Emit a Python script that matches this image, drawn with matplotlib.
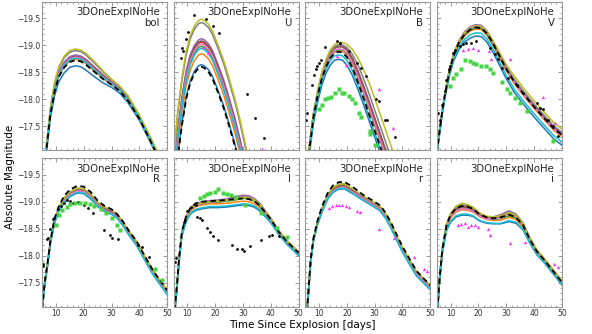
import numpy as np
import matplotlib
matplotlib.use('Agg')
import matplotlib.pyplot as plt
from matplotlib.ticker import MultipleLocator, FuncFormatter

#************************************
''' Data read off the picture '''
#************************************
# model order in every panel:
# blue, orange, green, red, purple, brown, pink, gray, olive, cyan, dashed black
model_colors = ['#1f77b4', '#ff7f0e', '#2ca02c', '#d62728', '#9467bd',
                '#8c564b', '#e377c2', '#7f7f7f', '#bcbd22', '#17becf']

t_bol = [5, 6.5, 8, 9.5, 11, 13, 15, 17, 19, 21, 24, 27, 30, 33, 36, 40, 44, 50]
bol_models = [
    [-16.21, -16.97, -17.65, -18.06, -18.32, -18.49, -18.59, -18.62, -18.60, -18.53, -18.41, -18.30, -18.22, -18.11, -17.93, -17.61, -17.20, -16.55],
    [-16.27, -17.02, -17.72, -18.16, -18.42, -18.61, -18.71, -18.74, -18.72, -18.65, -18.51, -18.38, -18.27, -18.16, -17.98, -17.64, -17.23, -16.58],
    [-16.29, -17.04, -17.74, -18.18, -18.45, -18.64, -18.74, -18.77, -18.75, -18.68, -18.54, -18.41, -18.29, -18.17, -17.99, -17.65, -17.24, -16.59],
    [-16.30, -17.05, -17.76, -18.21, -18.48, -18.67, -18.77, -18.80, -18.78, -18.71, -18.57, -18.43, -18.30, -18.18, -18.00, -17.66, -17.25, -16.60],
    [-16.32, -17.07, -17.77, -18.22, -18.50, -18.69, -18.79, -18.82, -18.80, -18.73, -18.59, -18.44, -18.32, -18.19, -18.01, -17.67, -17.26, -16.61],
    [-16.30, -17.05, -17.75, -18.20, -18.47, -18.66, -18.76, -18.79, -18.77, -18.71, -18.58, -18.44, -18.32, -18.20, -18.02, -17.67, -17.26, -16.60],
    [-16.29, -17.04, -17.74, -18.19, -18.46, -18.65, -18.75, -18.78, -18.76, -18.69, -18.55, -18.41, -18.30, -18.18, -18.00, -17.67, -17.27, -16.62],
    [-16.36, -17.11, -17.82, -18.29, -18.57, -18.77, -18.87, -18.90, -18.88, -18.81, -18.66, -18.50, -18.36, -18.23, -18.05, -17.70, -17.29, -16.64],
    [-16.37, -17.12, -17.83, -18.31, -18.60, -18.80, -18.90, -18.93, -18.91, -18.84, -18.69, -18.52, -18.37, -18.24, -18.06, -17.70, -17.29, -16.64],
    [-16.28, -17.03, -17.73, -18.18, -18.44, -18.63, -18.73, -18.76, -18.74, -18.67, -18.53, -18.40, -18.28, -18.17, -17.99, -17.65, -17.24, -16.59],
    [-16.27, -17.02, -17.71, -18.14, -18.41, -18.59, -18.69, -18.72, -18.70, -18.63, -18.50, -18.37, -18.27, -18.15, -17.97, -17.64, -17.23, -16.58],
]

t_U = [5, 6.5, 8, 9.5, 11, 12.5, 14, 15, 16, 17.5, 19, 21, 23, 25, 27, 29, 31, 33]
U_models = [
    [-16.06, -16.96, -17.56, -18.04, -18.34, -18.52, -18.62, -18.64, -18.62, -18.55, -18.42, -18.16, -17.88, -17.54, -17.18, -16.76, -16.28, -15.76],
    [-16.26, -17.16, -17.76, -18.24, -18.54, -18.72, -18.82, -18.84, -18.82, -18.75, -18.62, -18.36, -18.08, -17.74, -17.38, -16.96, -16.48, -15.96],
    [-16.40, -17.30, -17.90, -18.38, -18.68, -18.86, -18.96, -18.98, -18.96, -18.89, -18.76, -18.50, -18.22, -17.88, -17.52, -17.10, -16.62, -16.10],
    [-16.48, -17.38, -17.98, -18.46, -18.76, -18.94, -19.04, -19.06, -19.04, -18.97, -18.84, -18.58, -18.30, -17.96, -17.60, -17.18, -16.70, -16.18],
    [-16.54, -17.44, -18.04, -18.52, -18.82, -19.00, -19.10, -19.12, -19.10, -19.03, -18.90, -18.64, -18.36, -18.02, -17.66, -17.24, -16.76, -16.24],
    [-16.50, -17.40, -18.00, -18.48, -18.78, -18.96, -19.06, -19.08, -19.06, -18.99, -18.86, -18.60, -18.32, -17.98, -17.62, -17.20, -16.72, -16.20],
    [-16.44, -17.34, -17.94, -18.42, -18.72, -18.90, -19.00, -19.02, -19.00, -18.93, -18.80, -18.54, -18.26, -17.92, -17.56, -17.14, -16.66, -16.14],
    [-16.84, -17.74, -18.34, -18.82, -19.12, -19.30, -19.40, -19.42, -19.40, -19.33, -19.20, -18.94, -18.66, -18.32, -17.96, -17.54, -17.06, -16.54],
    [-16.90, -17.80, -18.40, -18.88, -19.18, -19.36, -19.46, -19.48, -19.46, -19.39, -19.26, -19.00, -18.72, -18.38, -18.02, -17.60, -17.12, -16.60],
    [-16.36, -17.26, -17.86, -18.34, -18.64, -18.82, -18.92, -18.94, -18.92, -18.85, -18.72, -18.46, -18.18, -17.84, -17.48, -17.06, -16.58, -16.06],
    [-16.02, -16.92, -17.52, -18.00, -18.30, -18.48, -18.58, -18.60, -18.58, -18.51, -18.38, -18.12, -17.84, -17.50, -17.14, -16.72, -16.24, -15.72],
]
U_black_t = [7.5, 8.1, 8.5, 9.3, 10.3, 12.3, 16.6, 19.2, 21.4, 31.4, 34.4, 37.6]
U_black_m = [-18.77, -18.95, -18.89, -19.12, -19.24, -19.56, -19.49, -19.36, -19.22, -18.10, -17.65, -17.28]
U_mag_t = [15.4, 17.4, 36.8]
U_mag_m = [-18.96, -18.85, -17.07]

t_B = [5, 6.5, 8, 9.5, 11, 12.5, 14, 15.5, 17, 18.5, 20, 22, 24, 26, 28, 30, 32, 34, 36, 38]
B_models = [
    [-16.40, -16.98, -17.56, -17.95, -18.26, -18.48, -18.63, -18.72, -18.74, -18.72, -18.63, -18.44, -18.18, -17.90, -17.60, -17.30, -17.00, -16.70, -16.42, -16.12],
    [-16.48, -17.08, -17.68, -18.08, -18.39, -18.61, -18.77, -18.87, -18.90, -18.89, -18.82, -18.64, -18.39, -18.11, -17.82, -17.52, -17.22, -16.92, -16.64, -16.34],
    [-16.49, -17.09, -17.69, -18.09, -18.41, -18.63, -18.79, -18.89, -18.92, -18.91, -18.84, -18.66, -18.41, -18.13, -17.84, -17.54, -17.24, -16.94, -16.66, -16.36],
    [-16.51, -17.11, -17.72, -18.12, -18.45, -18.68, -18.85, -18.95, -18.98, -18.97, -18.91, -18.73, -18.48, -18.20, -17.91, -17.61, -17.31, -17.01, -16.73, -16.43],
    [-16.52, -17.12, -17.73, -18.14, -18.47, -18.70, -18.87, -18.97, -19.01, -19.00, -18.93, -18.76, -18.51, -18.23, -17.94, -17.64, -17.34, -17.04, -16.76, -16.46],
    [-16.50, -17.10, -17.71, -18.11, -18.44, -18.67, -18.84, -18.94, -18.97, -18.97, -18.91, -18.75, -18.52, -18.25, -17.96, -17.66, -17.36, -17.06, -16.78, -16.48],
    [-16.50, -17.10, -17.70, -18.10, -18.42, -18.64, -18.80, -18.90, -18.93, -18.92, -18.85, -18.67, -18.42, -18.14, -17.85, -17.55, -17.25, -16.95, -16.67, -16.37],
    [-16.53, -17.13, -17.73, -18.14, -18.47, -18.70, -18.87, -18.97, -19.00, -19.00, -18.96, -18.83, -18.63, -18.38, -18.10, -17.80, -17.50, -17.20, -16.90, -16.60],
    [-16.55, -17.15, -17.75, -18.17, -18.50, -18.74, -18.91, -19.01, -19.05, -19.05, -19.02, -18.92, -18.76, -18.55, -18.30, -18.02, -17.72, -17.42, -17.12, -16.82],
    [-16.45, -17.04, -17.63, -18.02, -18.33, -18.55, -18.71, -18.80, -18.82, -18.80, -18.72, -18.53, -18.27, -17.98, -17.68, -17.38, -17.08, -16.78, -16.50, -16.20],
    [-16.47, -17.07, -17.67, -18.07, -18.38, -18.60, -18.76, -18.85, -18.88, -18.86, -18.78, -18.58, -18.31, -18.02, -17.72, -17.42, -17.12, -16.82, -16.54, -16.24],
]
B_black_t = [5.4, 5.6, 7.4, 8.2, 9.0, 9.2, 9.8, 10.7, 12.2, 16.4, 17.6, 20.6, 23.7, 25.1, 27.0, 30.6, 31.5, 33.9, 34.5, 37.5]
B_black_m = [-17.61, -17.75, -18.27, -18.44, -18.55, -18.61, -18.67, -18.72, -18.96, -19.07, -19.04, -18.89, -18.67, -18.58, -18.43, -18.00, -17.96, -17.62, -17.62, -17.30]
B_green_t = [9.8, 11.0, 12.2, 13.1, 14.3, 15.8, 17.0, 18.2, 19.1, 20.6, 21.9, 23.1, 24.2, 25.1, 28.5, 28.5, 30.3]
B_green_m = [-17.81, -17.90, -18.00, -18.02, -18.04, -18.12, -18.18, -18.12, -18.12, -18.06, -18.00, -17.93, -17.75, -17.67, -17.41, -17.35, -17.16]
B_mag_t = [16.4, 19.8, 31.5, 36.7]
B_mag_m = [-18.80, -18.64, -18.18, -17.47]

t_V = [5, 6, 7, 8, 9.5, 11, 13, 15, 17, 19, 21, 23, 25, 27, 30, 33, 36, 40, 44, 47, 50]
V_models = [
    [-16.95, -17.35, -17.73, -18.04, -18.42, -18.70, -18.92, -19.06, -19.13, -19.17, -19.16, -19.06, -18.89, -18.69, -18.38, -18.12, -17.92, -17.67, -17.44, -17.27, -17.15],
    [-16.99, -17.39, -17.77, -18.09, -18.48, -18.78, -19.03, -19.17, -19.26, -19.30, -19.29, -19.19, -19.02, -18.82, -18.53, -18.28, -18.08, -17.83, -17.60, -17.43, -17.31],
    [-17.00, -17.40, -17.78, -18.10, -18.50, -18.79, -19.04, -19.19, -19.28, -19.32, -19.31, -19.21, -19.04, -18.85, -18.55, -18.31, -18.11, -17.86, -17.63, -17.46, -17.34],
    [-17.00, -17.40, -17.78, -18.10, -18.51, -18.81, -19.06, -19.21, -19.30, -19.34, -19.33, -19.23, -19.07, -18.87, -18.57, -18.33, -18.13, -17.88, -17.65, -17.48, -17.36],
    [-17.02, -17.42, -17.80, -18.12, -18.53, -18.83, -19.09, -19.25, -19.34, -19.38, -19.37, -19.27, -19.10, -18.90, -18.60, -18.34, -18.14, -17.89, -17.66, -17.49, -17.37],
    [-17.00, -17.40, -17.78, -18.10, -18.50, -18.80, -19.05, -19.20, -19.29, -19.33, -19.32, -19.22, -19.05, -18.86, -18.56, -18.32, -18.12, -17.87, -17.64, -17.47, -17.35],
    [-17.01, -17.41, -17.79, -18.11, -18.51, -18.81, -19.07, -19.22, -19.31, -19.35, -19.34, -19.24, -19.07, -18.86, -18.56, -18.30, -18.10, -17.85, -17.62, -17.45, -17.33],
    [-17.00, -17.40, -17.78, -18.10, -18.51, -18.81, -19.06, -19.21, -19.30, -19.34, -19.33, -19.23, -19.07, -18.88, -18.59, -18.36, -18.16, -17.91, -17.68, -17.51, -17.39],
    [-17.01, -17.41, -17.79, -18.11, -18.52, -18.82, -19.07, -19.23, -19.32, -19.36, -19.35, -19.26, -19.10, -18.92, -18.64, -18.42, -18.22, -17.97, -17.74, -17.57, -17.45],
    [-16.97, -17.37, -17.75, -18.06, -18.45, -18.74, -18.97, -19.11, -19.19, -19.23, -19.22, -19.12, -18.95, -18.75, -18.44, -18.18, -17.98, -17.73, -17.50, -17.33, -17.21],
    [-17.00, -17.40, -17.78, -18.10, -18.50, -18.80, -19.05, -19.20, -19.29, -19.33, -19.32, -19.22, -19.06, -18.86, -18.56, -18.31, -18.11, -17.86, -17.63, -17.46, -17.34],
]
V_black_t = [5.5, 6.1, 7.0, 7.9, 8.5, 9.3, 9.7, 10.9, 11.5, 13.3, 14.5, 15.7, 17.5, 19.3, 24.1, 25.9, 27.1, 28.4, 30.7, 33.8, 36.2, 41.0, 42.2, 43.4, 45.2, 47.0, 48.8]
V_black_m = [-17.75, -17.62, -17.90, -18.15, -18.36, -18.55, -18.61, -18.86, -18.92, -18.98, -19.02, -19.04, -19.04, -19.07, -18.95, -18.83, -18.74, -18.58, -18.39, -18.27, -18.12, -17.93, -17.84, -17.81, -17.62, -17.50, -17.31]
V_green_t = [9.7, 10.9, 12.1, 13.9, 15.1, 16.9, 18.1, 19.3, 21.1, 22.9, 24.1, 25.3, 28.4, 30.2, 31.4, 33.2, 35.0, 37.4, 47.0]
V_green_m = [-18.24, -18.39, -18.46, -18.55, -18.72, -18.70, -18.67, -18.65, -18.61, -18.61, -18.55, -18.49, -18.31, -18.18, -18.12, -18.02, -17.93, -17.78, -17.22]
V_mag_t = [14.5, 16.3, 18.1, 19.9, 23.9, 24.5, 31.4, 43.4, 47.6]
V_mag_m = [-18.92, -18.93, -18.95, -18.92, -18.89, -18.74, -18.74, -18.04, -17.56]

t_R = [5, 6, 7, 8, 9.5, 11, 13, 15, 17.5, 20, 22.5, 25, 27.5, 30, 32, 34, 36.5, 39, 42, 45, 50]
R_models = [
    [-16.97, -17.47, -17.82, -18.22, -18.60, -18.82, -18.98, -19.09, -19.16, -19.15, -19.05, -18.91, -18.82, -18.77, -18.70, -18.57, -18.37, -18.20, -17.92, -17.65, -17.29],
    [-17.00, -17.50, -17.85, -18.25, -18.64, -18.86, -19.04, -19.15, -19.22, -19.21, -19.11, -18.96, -18.86, -18.81, -18.73, -18.60, -18.40, -18.23, -17.95, -17.68, -17.32],
    [-17.00, -17.50, -17.85, -18.25, -18.65, -18.87, -19.05, -19.16, -19.23, -19.22, -19.12, -18.97, -18.87, -18.82, -18.74, -18.61, -18.41, -18.24, -17.96, -17.69, -17.33],
    [-16.99, -17.49, -17.84, -18.24, -18.64, -18.86, -19.03, -19.14, -19.21, -19.20, -19.10, -18.95, -18.85, -18.80, -18.71, -18.58, -18.38, -18.21, -17.93, -17.66, -17.30],
    [-17.01, -17.51, -17.86, -18.26, -18.66, -18.88, -19.07, -19.18, -19.25, -19.24, -19.14, -18.98, -18.88, -18.83, -18.74, -18.61, -18.41, -18.24, -17.96, -17.69, -17.33],
    [-17.00, -17.50, -17.85, -18.25, -18.65, -18.87, -19.05, -19.16, -19.23, -19.22, -19.12, -18.97, -18.88, -18.83, -18.75, -18.62, -18.42, -18.25, -17.97, -17.70, -17.34],
    [-16.99, -17.49, -17.84, -18.24, -18.63, -18.85, -19.02, -19.13, -19.20, -19.19, -19.09, -18.94, -18.84, -18.79, -18.71, -18.58, -18.38, -18.21, -17.93, -17.66, -17.30],
    [-17.00, -17.50, -17.85, -18.25, -18.66, -18.88, -19.06, -19.17, -19.24, -19.23, -19.13, -18.98, -18.89, -18.84, -18.76, -18.63, -18.43, -18.26, -17.98, -17.71, -17.35],
    [-17.01, -17.51, -17.86, -18.26, -18.66, -18.88, -19.07, -19.18, -19.25, -19.24, -19.14, -18.99, -18.90, -18.85, -18.77, -18.64, -18.44, -18.27, -17.99, -17.72, -17.36],
    [-16.98, -17.48, -17.83, -18.23, -18.61, -18.83, -18.99, -19.10, -19.17, -19.16, -19.06, -18.91, -18.82, -18.77, -18.69, -18.56, -18.36, -18.19, -17.91, -17.64, -17.28],
    [-17.02, -17.52, -17.87, -18.27, -18.69, -18.91, -19.11, -19.22, -19.29, -19.28, -19.18, -19.02, -18.92, -18.86, -18.77, -18.64, -18.44, -18.27, -17.99, -17.72, -17.36],
]
R_black_t = [5.2, 5.4, 6.9, 7.3, 7.9, 8.8, 9.2, 10.6, 11.7, 12.9, 14.0, 15.2, 16.3, 18.1, 20.1, 21.5, 23.3, 27.3, 29.6, 30.2, 32.5, 39.4, 41.1, 43.4]
R_black_m = [-17.85, -17.80, -18.30, -18.33, -18.49, -18.67, -18.70, -18.86, -18.92, -18.98, -19.03, -19.01, -18.98, -19.00, -18.94, -18.88, -18.79, -18.48, -18.38, -18.32, -18.30, -18.20, -18.16, -17.98]
R_green_t = [10.0, 11.2, 12.3, 14.0, 15.2, 16.9, 18.7, 20.4, 22.1, 23.8, 26.1, 27.9, 30.2, 31.9, 33.1, 45.8, 48.1]
R_green_m = [-18.57, -18.75, -18.85, -18.91, -18.95, -18.97, -18.98, -18.97, -18.95, -18.92, -18.86, -18.79, -18.69, -18.57, -18.48, -17.76, -17.54]

t_I = [5, 6, 7, 8, 9.5, 11, 13, 15.5, 18, 21, 24, 27, 30, 32, 34, 36, 38, 40, 43, 46, 50]
I_models = [
    [-16.77, -17.27, -17.91, -18.37, -18.63, -18.77, -18.84, -18.87, -18.89, -18.89, -18.90, -18.92, -18.94, -18.93, -18.90, -18.83, -18.72, -18.61, -18.38, -18.20, -18.00],
    [-16.79, -17.29, -17.94, -18.40, -18.68, -18.82, -18.91, -18.94, -18.96, -18.96, -18.97, -18.99, -19.01, -19.00, -18.96, -18.89, -18.76, -18.64, -18.41, -18.23, -18.03],
    [-16.80, -17.30, -17.95, -18.42, -18.70, -18.85, -18.94, -18.97, -18.99, -18.99, -19.01, -19.03, -19.06, -19.05, -19.01, -18.92, -18.79, -18.66, -18.42, -18.24, -18.04],
    [-16.81, -17.31, -17.96, -18.43, -18.71, -18.86, -18.96, -18.99, -19.01, -19.02, -19.04, -19.08, -19.11, -19.10, -19.05, -18.96, -18.82, -18.68, -18.44, -18.26, -18.06],
    [-16.81, -17.32, -17.97, -18.44, -18.72, -18.87, -18.97, -19.00, -19.02, -19.03, -19.05, -19.09, -19.12, -19.11, -19.06, -18.97, -18.83, -18.69, -18.45, -18.27, -18.07],
    [-16.80, -17.30, -17.95, -18.42, -18.71, -18.86, -18.95, -18.98, -19.00, -19.01, -19.03, -19.07, -19.10, -19.09, -19.04, -18.95, -18.80, -18.67, -18.43, -18.25, -18.05],
    [-16.80, -17.30, -17.95, -18.42, -18.70, -18.85, -18.94, -18.97, -18.99, -19.00, -19.03, -19.06, -19.10, -19.09, -19.04, -18.94, -18.79, -18.66, -18.42, -18.24, -18.04],
    [-16.80, -17.30, -17.95, -18.42, -18.70, -18.85, -18.94, -18.97, -18.99, -19.00, -19.02, -19.05, -19.09, -19.08, -19.03, -18.94, -18.80, -18.68, -18.44, -18.26, -18.06],
    [-16.81, -17.31, -17.96, -18.43, -18.71, -18.86, -18.95, -18.98, -19.00, -19.01, -19.03, -19.05, -19.08, -19.07, -19.03, -18.95, -18.82, -18.69, -18.45, -18.27, -18.07],
    [-16.78, -17.28, -17.92, -18.38, -18.64, -18.78, -18.86, -18.89, -18.91, -18.91, -18.92, -18.94, -18.96, -18.95, -18.92, -18.85, -18.73, -18.62, -18.39, -18.21, -18.01],
    [-16.82, -17.32, -17.97, -18.45, -18.73, -18.88, -18.97, -19.00, -19.01, -19.02, -19.03, -19.05, -19.06, -19.05, -19.01, -18.93, -18.80, -18.67, -18.43, -18.25, -18.05],
]
I_black_t = [5.6, 5.8, 8.6, 9.2, 10.0, 11.2, 12.9, 13.5, 14.6, 15.2, 16.9, 18.1, 19.2, 21.0, 26.1, 27.9, 29.6, 30.4, 32.5, 36.5, 39.4, 40.5, 42.9]
I_black_m = [-17.89, -17.95, -18.63, -18.66, -18.82, -18.91, -18.94, -18.72, -18.69, -18.66, -18.51, -18.44, -18.36, -18.29, -18.20, -18.12, -18.13, -18.09, -18.18, -18.29, -18.36, -18.38, -18.36]
I_green_t = [14.6, 15.8, 16.9, 18.1, 19.8, 21.0, 22.7, 24.1, 25.6, 27.3, 30.8, 36.5, 42.3, 45.8]
I_green_m = [-19.07, -19.11, -19.14, -19.16, -19.17, -19.24, -19.16, -19.14, -19.13, -19.08, -18.94, -18.79, -18.51, -18.34]

t_r = [5, 6, 7, 8, 9.5, 11, 13, 15, 17, 19, 21, 23, 26, 29, 32, 34, 36, 38, 40, 42, 45, 50]
r_models = [
    [-16.57, -17.17, -17.89, -18.27, -18.58, -18.80, -19.04, -19.17, -19.23, -19.24, -19.18, -19.12, -19.02, -18.93, -18.83, -18.69, -18.50, -18.28, -18.07, -17.89, -17.63, -17.37],
    [-16.59, -17.19, -17.91, -18.29, -18.60, -18.83, -19.07, -19.21, -19.27, -19.28, -19.22, -19.16, -19.05, -18.96, -18.86, -18.72, -18.53, -18.31, -18.10, -17.92, -17.66, -17.40],
    [-16.60, -17.20, -17.92, -18.30, -18.62, -18.84, -19.09, -19.23, -19.29, -19.30, -19.24, -19.18, -19.07, -18.98, -18.88, -18.74, -18.55, -18.33, -18.12, -17.94, -17.68, -17.42],
    [-16.60, -17.20, -17.92, -18.30, -18.62, -18.85, -19.10, -19.24, -19.30, -19.31, -19.25, -19.17, -19.06, -18.97, -18.87, -18.73, -18.54, -18.32, -18.11, -17.93, -17.67, -17.41],
    [-16.60, -17.20, -17.92, -18.31, -18.63, -18.86, -19.11, -19.25, -19.31, -19.32, -19.26, -19.19, -19.08, -18.99, -18.89, -18.75, -18.56, -18.34, -18.13, -17.95, -17.69, -17.43],
    [-16.60, -17.20, -17.92, -18.30, -18.61, -18.84, -19.09, -19.23, -19.29, -19.30, -19.24, -19.17, -19.06, -18.97, -18.87, -18.73, -18.54, -18.32, -18.11, -17.93, -17.67, -17.41],
    [-16.58, -17.18, -17.90, -18.28, -18.60, -18.82, -19.06, -19.20, -19.26, -19.27, -19.21, -19.15, -19.05, -18.96, -18.86, -18.72, -18.53, -18.31, -18.10, -17.92, -17.66, -17.40],
    [-16.61, -17.21, -17.93, -18.31, -18.63, -18.86, -19.12, -19.26, -19.32, -19.33, -19.27, -19.20, -19.09, -19.00, -18.90, -18.76, -18.57, -18.35, -18.14, -17.96, -17.70, -17.44],
    [-16.61, -17.21, -17.93, -18.31, -18.63, -18.86, -19.12, -19.26, -19.32, -19.33, -19.27, -19.21, -19.10, -19.01, -18.91, -18.77, -18.58, -18.36, -18.15, -17.97, -17.71, -17.45],
    [-16.58, -17.18, -17.90, -18.28, -18.59, -18.81, -19.05, -19.18, -19.24, -19.25, -19.19, -19.12, -19.02, -18.93, -18.83, -18.69, -18.50, -18.28, -18.07, -17.89, -17.63, -17.37],
    [-16.62, -17.22, -17.94, -18.33, -18.66, -18.90, -19.15, -19.30, -19.36, -19.37, -19.31, -19.24, -19.12, -19.03, -18.93, -18.79, -18.60, -18.38, -18.17, -17.99, -17.72, -17.45],
]
r_mag_t = [13.6, 14.8, 16.0, 17.2, 18.4, 19.6, 20.8, 23.8, 24.6, 31.6, 36.8, 44.0, 47.8, 49.0]
r_mag_m = [-18.88, -18.92, -18.93, -18.93, -18.93, -18.92, -18.90, -18.82, -18.80, -18.49, -18.32, -17.97, -17.76, -17.72]

t_i = [5, 6, 7, 8.5, 10, 12, 14, 16, 18, 20.5, 23, 25.5, 28, 31, 33.5, 36, 38.5, 41, 43.5, 46, 50]
i_models = [
    [-16.77, -17.50, -18.04, -18.46, -18.62, -18.72, -18.75, -18.75, -18.73, -18.64, -18.60, -18.59, -18.59, -18.63, -18.60, -18.48, -18.23, -18.02, -17.88, -17.72, -17.46],
    [-16.79, -17.53, -18.08, -18.52, -18.70, -18.81, -18.85, -18.84, -18.81, -18.72, -18.67, -18.65, -18.66, -18.71, -18.67, -18.53, -18.27, -18.06, -17.91, -17.75, -17.49],
    [-16.79, -17.54, -18.09, -18.54, -18.72, -18.84, -18.88, -18.87, -18.83, -18.74, -18.69, -18.67, -18.69, -18.74, -18.70, -18.56, -18.30, -18.08, -17.93, -17.77, -17.51],
    [-16.80, -17.56, -18.11, -18.56, -18.76, -18.88, -18.92, -18.91, -18.86, -18.75, -18.70, -18.71, -18.75, -18.82, -18.76, -18.60, -18.32, -18.09, -17.94, -17.78, -17.52],
    [-16.81, -17.56, -18.11, -18.57, -18.76, -18.89, -18.93, -18.92, -18.87, -18.76, -18.71, -18.72, -18.76, -18.83, -18.77, -18.61, -18.33, -18.10, -17.95, -17.79, -17.53],
    [-16.80, -17.55, -18.10, -18.55, -18.74, -18.86, -18.90, -18.89, -18.85, -18.75, -18.70, -18.70, -18.73, -18.80, -18.75, -18.59, -18.31, -18.09, -17.94, -17.78, -17.52],
    [-16.79, -17.54, -18.09, -18.53, -18.72, -18.83, -18.87, -18.86, -18.82, -18.73, -18.68, -18.68, -18.70, -18.77, -18.72, -18.57, -18.29, -18.07, -17.92, -17.76, -17.50],
    [-16.81, -17.56, -18.12, -18.57, -18.77, -18.90, -18.94, -18.93, -18.88, -18.77, -18.72, -18.71, -18.73, -18.79, -18.74, -18.59, -18.32, -18.10, -17.95, -17.79, -17.53],
    [-16.81, -17.57, -18.13, -18.59, -18.79, -18.92, -18.97, -18.95, -18.90, -18.79, -18.73, -18.72, -18.74, -18.80, -18.75, -18.60, -18.33, -18.11, -17.96, -17.80, -17.54],
    [-16.77, -17.51, -18.05, -18.47, -18.64, -18.74, -18.77, -18.77, -18.74, -18.65, -18.61, -18.60, -18.60, -18.65, -18.62, -18.49, -18.24, -18.03, -17.89, -17.73, -17.47],
    [-16.81, -17.56, -18.11, -18.56, -18.76, -18.88, -18.92, -18.91, -18.87, -18.76, -18.71, -18.69, -18.71, -18.76, -18.71, -18.57, -18.30, -18.08, -17.93, -17.77, -17.51],
]
i_mag_t = [12.6, 13.8, 15.0, 16.2, 17.4, 18.6, 19.8, 23.4, 24.2, 31.2, 36.6, 47.3, 48.5]
i_mag_m = [-18.57, -18.58, -18.60, -18.54, -18.57, -18.56, -18.54, -18.49, -18.38, -18.24, -18.26, -17.85, -17.79]

#************************************
''' Plot '''
#************************************
def minusFmt(v, pos):
    return ('%.1f' % v).replace('-', '\u2212')

def plotPanel(ax, band, t, models, black=None, green=None, mag=None):
    for row, col in zip(models[:10], model_colors):
        ax.plot(t, row, color=col, lw=1.1)
    ax.plot(t, models[10], color='k', lw=1.3, ls=(0, (3, 2)))
    if black is not None:
        ax.plot(black[0], black[1], 'o', color='k', ms=2.0, mec='none')
    if green is not None:
        ax.plot(green[0], green[1], 's', color='#44d444', ms=2.2, mec='none')
    if mag is not None:
        ax.plot(mag[0], mag[1], '^', color='#ff33ff', ms=2.4, mec='none')
    ax.text(0.94, 0.965, '3DOneExplNoHe\n' + band, transform=ax.transAxes,
            ha='right', va='top', fontsize=7.3, linespacing=1.1, color='#222222')

fig, axs = plt.subplots(2, 4, figsize=(5.92, 3.34), dpi=100, sharex=True, sharey=True)
plt.subplots_adjust(left=0.071, right=0.949, top=0.994, bottom=0.081,
                    wspace=0.052, hspace=0.054)

plotPanel(axs[0, 0], 'bol', t_bol, bol_models)
plotPanel(axs[0, 1], 'U', t_U, U_models, black=(U_black_t, U_black_m), mag=(U_mag_t, U_mag_m))
plotPanel(axs[0, 2], 'B', t_B, B_models, black=(B_black_t, B_black_m),
          green=(B_green_t, B_green_m), mag=(B_mag_t, B_mag_m))
plotPanel(axs[0, 3], 'V', t_V, V_models, black=(V_black_t, V_black_m),
          green=(V_green_t, V_green_m), mag=(V_mag_t, V_mag_m))
plotPanel(axs[1, 0], 'R', t_R, R_models, black=(R_black_t, R_black_m),
          green=(R_green_t, R_green_m))
plotPanel(axs[1, 1], 'I', t_I, I_models, black=(I_black_t, I_black_m),
          green=(I_green_t, I_green_m))
plotPanel(axs[1, 2], 'r', t_r, r_models, mag=(r_mag_t, r_mag_m))
plotPanel(axs[1, 3], 'i', t_i, i_models, mag=(i_mag_t, i_mag_m))

for ax in axs.flat:
    ax.set_xlim(5, 50)
    ax.set_ylim(-17.05, -19.8)
    ax.xaxis.set_major_locator(MultipleLocator(10))
    ax.xaxis.set_minor_locator(MultipleLocator(2))
    ax.yaxis.set_major_locator(MultipleLocator(0.5))
    ax.yaxis.set_minor_locator(MultipleLocator(0.1))
    ax.yaxis.set_major_formatter(FuncFormatter(minusFmt))
    ax.tick_params(which='both', direction='in', top=True, right=True,
                   color='#888888', labelsize=5.5, labelcolor='#333333', pad=1.5)
    ax.tick_params(which='major', length=3, width=0.6)
    ax.tick_params(which='minor', length=1.5, width=0.5)
    for s in ax.spines.values():
        s.set_color('#999999')
        s.set_linewidth(0.8)
    ax.label_outer()

fig.text(0.51, 0.012, 'Time Since Explosion [days]', ha='center', va='bottom', fontsize=7.5)
fig.text(0.008, 0.47, 'Absolute Magnitude', ha='left', va='center', rotation=90, fontsize=7.5)

plt.savefig('out.png', dpi=100)
plt.close()
